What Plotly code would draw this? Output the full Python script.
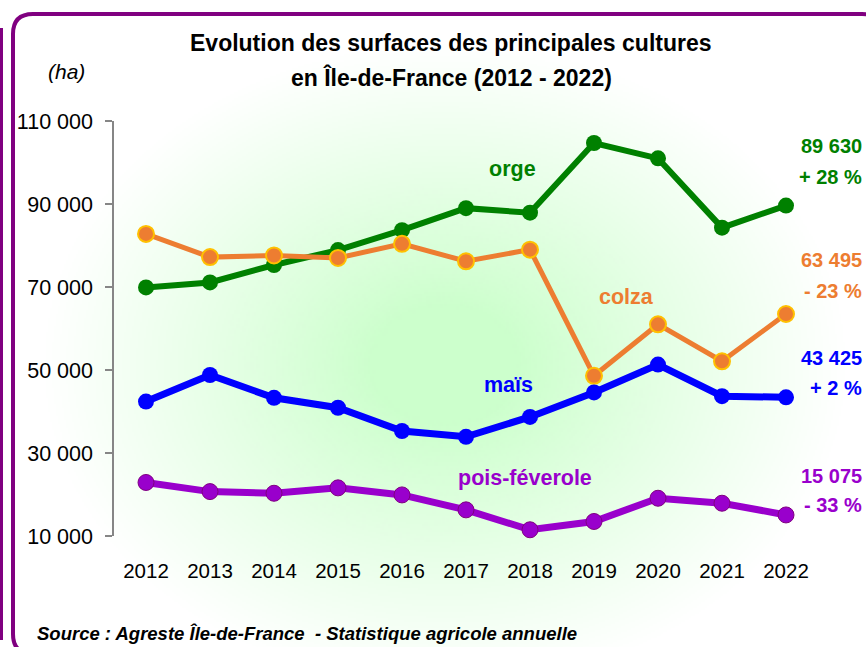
import base64, struct, zlib
import numpy as np
import plotly.graph_objects as go

# ---------------- data ----------------
years = [2012, 2013, 2014, 2015, 2016, 2017, 2018, 2019, 2020, 2021, 2022]
orge = [69900, 71100, 75300, 78900, 83700, 89000, 87900, 104700, 101000, 84300, 89630]
colza = [82800, 77200, 77600, 77000, 80400, 76200, 79000, 48600, 61000, 52100, 63495]
mais = [42400, 48800, 43300, 40900, 35300, 33900, 38700, 44600, 51300, 43700, 43425]
pois = [22900, 20700, 20300, 21600, 19900, 16300, 11500, 13500, 19100, 17900, 15075]

y_ticks = [10000, 30000, 50000, 70000, 90000, 110000]
y_ticktext = ["10 000", "30 000", "50 000", "70 000", "90 000", "110 000"]

series_names = ["orge", "colza", "maïs", "pois-féverole"]
end_values = ["89 630", "63 495", "43 425", "15 075"]
end_changes = ["+ 28 %", "- 23 %", "+ 2 %", "- 33 %"]

GREEN = "#008000"
ORANGE = "#ED7D31"
BLUE = "#0000FF"
VIOLET = "#9900CC"
FRAME = "#800080"

W, H = 866, 647
L, R, T, B = 114, 48, 121, 111
PW, PH = W - L - R, H - T - B


def px(x):
    return (x - L) / PW


def py(y):
    return (H - B - y) / PH


# ---------------- background gradient image ----------------
def gradient_png(w, h):
    xs = np.linspace(0, 1, w)
    ys = np.linspace(0, 1, h)
    X, Y = np.meshgrid(xs, ys)
    sx = 15 + X * (866 - 15)
    sy = 15 + Y * (647 - 15)
    dx = (sx - 445) / 400.0
    dy = (sy - 365) / 320.0
    t = np.sqrt(dx ** 2 + dy ** 2)
    f = np.clip((t - 0.18) / 0.82, 0, 1) ** 0.9
    c0 = np.array([204, 255, 204], dtype=float)
    c1 = np.array([255, 255, 255], dtype=float)
    img = c0[None, None, :] * (1 - f[..., None]) + c1[None, None, :] * f[..., None]
    img = np.clip(img, 0, 255).astype(np.uint8)
    raw = b"".join(b"\x00" + img[r].tobytes() for r in range(h))

    def chunk(tag, data):
        c = struct.pack(">I", len(data)) + tag + data
        return c + struct.pack(">I", zlib.crc32(tag + data) & 0xFFFFFFFF)

    png = b"\x89PNG\r\n\x1a\n"
    png += chunk(b"IHDR", struct.pack(">IIBBBBB", w, h, 8, 2, 0, 0, 0))
    png += chunk(b"IDAT", zlib.compress(raw, 9))
    png += chunk(b"IEND", b"")
    return "data:image/png;base64," + base64.b64encode(png).decode()


bg = gradient_png(426, 316)

# ---------------- figure ----------------
fig = go.Figure()

fig.add_trace(go.Scatter(
    x=years, y=orge, mode="lines+markers", name="orge",
    line=dict(color=GREEN, width=6),
    marker=dict(color=GREEN, size=16, line=dict(width=0)),
    cliponaxis=False))
fig.add_trace(go.Scatter(
    x=years, y=colza, mode="lines+markers", name="colza",
    line=dict(color=ORANGE, width=5),
    marker=dict(color=ORANGE, size=16, line=dict(color="#FFC000", width=2)),
    cliponaxis=False))
fig.add_trace(go.Scatter(
    x=years, y=mais, mode="lines+markers", name="maïs",
    line=dict(color=BLUE, width=7),
    marker=dict(color=BLUE, size=16, line=dict(width=0)),
    cliponaxis=False))
fig.add_trace(go.Scatter(
    x=years, y=pois, mode="lines+markers", name="pois-féverole",
    line=dict(color=VIOLET, width=7),
    marker=dict(color=VIOLET, size=16, line=dict(color=FRAME, width=1)),
    cliponaxis=False))

FONT = "Liberation Sans, Arial, sans-serif"

annotations = []
annotations.append(dict(
    text="<b>Evolution des surfaces des principales cultures</b>",
    x=px(451), y=py(43), xref="paper", yref="paper", showarrow=False,
    xanchor="center", yanchor="middle", font=dict(size=23, color="black", family=FONT)))
annotations.append(dict(
    text="<b>en Île-de-France (2012 - 2022)</b>",
    x=px(451), y=py(77), xref="paper", yref="paper", showarrow=False,
    xanchor="center", yanchor="middle", font=dict(size=23, color="black", family=FONT)))
annotations.append(dict(
    text="<i>(ha)</i>", x=px(66), y=py(71), xref="paper", yref="paper",
    showarrow=False, xanchor="center", yanchor="middle",
    font=dict(size=21, color="black", family=FONT)))
label_pos = [(512, 169), (626, 297), (508, 385), (525, 478)]
colors = [GREEN, ORANGE, BLUE, VIOLET]
for name, (lx, ly), c in zip(series_names, label_pos, colors):
    annotations.append(dict(
        text="<b>%s</b>" % name, x=px(lx), y=py(ly), xref="paper", yref="paper",
        showarrow=False, xanchor="center", yanchor="middle",
        font=dict(size=21.5, color=c, family=FONT)))
val_y = [146, 260, 358, 476]
chg_y = [177, 291, 388, 505]
for v, ch, vy, cy, c in zip(end_values, end_changes, val_y, chg_y, colors):
    annotations.append(dict(
        text="<b>%s</b>" % v, x=px(864), y=py(vy), xref="paper", yref="paper",
        showarrow=False, xanchor="right", yanchor="middle",
        font=dict(size=20, color=c, family=FONT)))
    annotations.append(dict(
        text="<b>%s</b>" % ch, x=px(864), y=py(cy), xref="paper", yref="paper",
        showarrow=False, xanchor="right", yanchor="middle",
        font=dict(size=20, color=c, family=FONT)))
annotations.append(dict(
    text="<b><i>Source : Agreste Île-de-France \u00a0- Statistique agricole annuelle</i></b>",
    x=px(35), y=py(633), xref="paper", yref="paper", showarrow=False,
    xanchor="left", yanchor="middle", font=dict(size=18.5, color="black", family=FONT)))

lft, top, rgt, bot, rad = 13, 14, 882, 654, 20
frame_path = (
    f"M {px(lft)},{py(bot - rad)} L {px(lft)},{py(top + rad)} "
    f"Q {px(lft)},{py(top)} {px(lft + rad)},{py(top)} "
    f"L {px(rgt - rad)},{py(top)} Q {px(rgt)},{py(top)} {px(rgt)},{py(top + rad)} "
    f"L {px(rgt)},{py(bot - rad)} Q {px(rgt)},{py(bot)} {px(rgt - rad)},{py(bot)} "
    f"L {px(lft + rad)},{py(bot)} Q {px(lft)},{py(bot)} {px(lft)},{py(bot - rad)} Z"
)
shapes = [
    dict(type="path", xref="paper", yref="paper", path=frame_path,
         line=dict(color=FRAME, width=4), fillcolor="rgba(0,0,0,0)", layer="above"),
    dict(type="line", xref="paper", yref="paper", x0=px(lft), x1=px(lft),
         y0=py(top + rad), y1=py(bot - rad), line=dict(color=FRAME, width=4)),
    dict(type="line", xref="paper", yref="paper", x0=px(1.5), x1=px(1.5),
         y0=py(28), y1=py(640), line=dict(color=FRAME, width=3)),
]

fig.update_layout(
    width=W, height=H,
    margin=dict(l=L, r=R, t=T, b=B, pad=0),
    paper_bgcolor="white", plot_bgcolor="rgba(0,0,0,0)",
    showlegend=False,
    font=dict(family=FONT, color="black"),
    annotations=annotations,
    shapes=shapes,
    images=[dict(source=bg, xref="paper", yref="paper",
                 x=px(15), y=py(15), sizex=px(866) - px(15), sizey=py(15) - py(647),
                 xanchor="left", yanchor="top", sizing="stretch", layer="below")],
    xaxis=dict(range=[2011.5, 2022.5], tickvals=years, ticktext=[str(y) for y in years],
               showline=False, showgrid=False, zeroline=False, ticks="",
               tickfont=dict(size=20.5, color="black", family=FONT),
               ticklabelstandoff=20),
    yaxis=dict(range=[10000, 110000], tickvals=y_ticks, ticktext=y_ticktext,
               showline=True, linecolor="#868686", linewidth=1.5,
               ticks="outside", ticklen=7, tickcolor="#868686", tickwidth=1.5,
               showgrid=False, zeroline=False,
               tickfont=dict(size=21.5, color="black", family=FONT),
               ticklabelstandoff=8),
)

fig.write_html(
    "out.html",
    config={"displayModeBar": False},
    post_script="document.body.style.margin='0';document.body.style.overflow='hidden';",
)
